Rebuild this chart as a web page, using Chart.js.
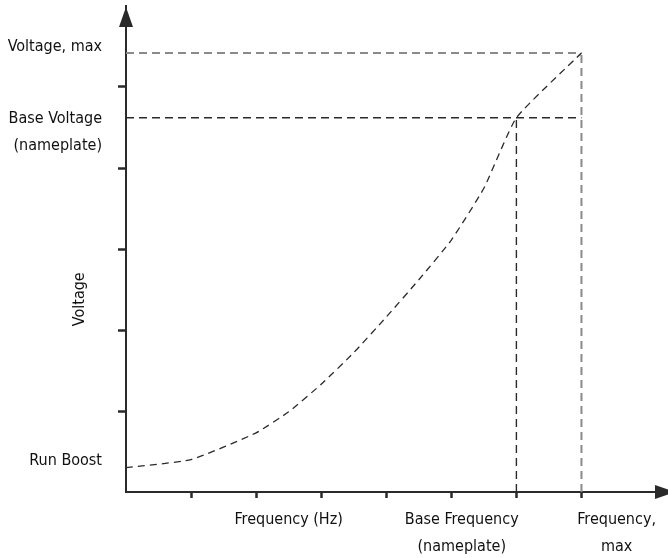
<!DOCTYPE html>
<html>
<head>
<meta charset="utf-8">
<script src="https://cdn.jsdelivr.net/npm/chart.js@4.4.1/dist/chart.umd.min.js"></script>
<style>
  body { margin: 0; background: #fff; }
  #vfChart { display: block; }
</style>
</head>
<body>
<canvas id="vfChart" width="668" height="558"></canvas>
<script>
// curve (x in frequency ticks, y in voltage ticks)
const curveFreq = [0, 1, 2, 2.5, 3, 3.5, 4, 4.5, 5, 5.5, 6, 7];
const curveVolt = [0.30, 0.40, 0.73, 0.99, 1.33, 1.72, 2.16, 2.62, 3.11, 3.75, 4.62, 5.42];

// reference levels
const baseFreq = 6;
const maxFreq = 7;
const baseVolt = 4.62;
const maxVolt = 5.42;

// tick marks
const xMarks = [1, 2, 3, 4, 5, 6, 7];
const yMarks = [1, 2, 3, 4, 5];

// tick labels (position, text)
const xLabelAt = [2.5, 5.16, 7.54];
const xLabels = ["Frequency (Hz)", ["Base Frequency", "(nameplate)"], ["Frequency,", "max"]];
const yLabelAt = [0.38, 4.44, 5.49];
const yLabels = ["Run Boost", ["Base Voltage", "(nameplate)"], "Voltage, max"];
const yTitle = "Voltage";
const yTitleAt = 2.38;

const FONT = "'Liberation Sans Narrow', 'DejaVu Sans Condensed', 'Liberation Sans', sans-serif";
const FONT_SIZE = 16;
const TEXT = "#111";
const DARK = "#2a2a2a";
const GREY = "#8a8a8a";

function toPoints(xs, ys) {
    return xs.map((x, i) => ({ x: x, y: ys[i] }));
}

function labelFor(value, at, labels) {
    const i = at.findIndex(v => Math.abs(v - value) < 1e-6);
    return i >= 0 ? labels[i] : "";
}

function isMark(value, marks) {
    return marks.some(v => Math.abs(v - value) < 1e-6);
}

// arrows on the axes + rotated axis title
const axisExtras = {
    id: "axisExtras",
    afterDraw(chart) {
        const { ctx, chartArea: a } = chart;
        ctx.save();
        ctx.fillStyle = DARK;

        ctx.beginPath();
        ctx.moveTo(a.left, a.top + 1);
        ctx.lineTo(a.left - 7, a.top + 21);
        ctx.lineTo(a.left + 7, a.top + 21);
        ctx.closePath();
        ctx.fill();

        ctx.beginPath();
        ctx.moveTo(a.right + 7, a.bottom);
        ctx.lineTo(a.right - 13, a.bottom - 7);
        ctx.lineTo(a.right - 13, a.bottom + 7);
        ctx.closePath();
        ctx.fill();

        ctx.fillStyle = TEXT;
        ctx.font = FONT_SIZE + "px " + FONT;
        ctx.textAlign = "center";
        ctx.textBaseline = "middle";
        ctx.translate(80, chart.scales.y.getPixelForValue(yTitleAt));
        ctx.rotate(-Math.PI / 2);
        ctx.fillText(yTitle, 0, 0);
        ctx.restore();
    }
};

const dashedLine = (data, color, width, dash, tension) => ({
    data: data,
    borderColor: color,
    borderWidth: width,
    borderDash: dash,
    pointRadius: 0,
    tension: tension || 0,
    fill: false
});

new Chart(document.getElementById("vfChart"), {
    type: "line",
    data: {
        datasets: [
            dashedLine(toPoints(curveFreq, curveVolt), DARK, 1.3, [7, 5], 0.15),
            dashedLine([{ x: 0, y: maxVolt }, { x: maxFreq, y: maxVolt }], GREY, 2, [8, 5]),
            dashedLine([{ x: maxFreq, y: 0 }, { x: maxFreq, y: maxVolt }], GREY, 2, [8, 5]),
            dashedLine([{ x: 0, y: baseVolt }, { x: maxFreq, y: baseVolt }], DARK, 1.4, [8, 5]),
            dashedLine([{ x: baseFreq, y: 0 }, { x: baseFreq, y: baseVolt }], DARK, 1.4, [8, 5])
        ]
    },
    options: {
        responsive: false,
        animation: false,
        layout: { padding: { top: 6, right: 0, left: 0, bottom: 0 } },
        plugins: {
            legend: { display: false },
            tooltip: { enabled: false }
        },
        scales: {
            x: {
                type: "linear",
                min: 0,
                max: 8.33,
                afterBuildTicks: scale => {
                    scale.ticks = [...xMarks, ...xLabelAt].sort((a, b) => a - b).map(v => ({ value: v }));
                },
                afterFit: scale => {
                    scale.height = 66;
                    scale.paddingLeft = 0;
                    scale.paddingRight = 0;
                },
                border: { display: true, color: DARK, width: 2 },
                grid: {
                    drawOnChartArea: false,
                    tickLength: 6,
                    tickWidth: 2.5,
                    tickColor: ctx => isMark(ctx.tick.value, xMarks) ? DARK : "rgba(0,0,0,0)"
                },
                ticks: {
                    autoSkip: false,
                    maxRotation: 0,
                    padding: 8,
                    color: TEXT,
                    font: { family: FONT, size: FONT_SIZE, lineHeight: 1.7 },
                    callback: value => labelFor(value, xLabelAt, xLabels)
                }
            },
            y: {
                type: "linear",
                min: 0,
                max: 6,
                afterBuildTicks: scale => {
                    scale.ticks = [...yMarks, ...yLabelAt].sort((a, b) => a - b).map(v => ({ value: v }));
                },
                afterFit: scale => {
                    scale.width = 126;
                    scale.paddingTop = 0;
                    scale.paddingBottom = 0;
                },
                border: { display: true, color: DARK, width: 2 },
                grid: {
                    drawOnChartArea: false,
                    tickLength: 8,
                    tickWidth: 2.5,
                    tickColor: ctx => isMark(ctx.tick.value, yMarks) ? DARK : "rgba(0,0,0,0)"
                },
                ticks: {
                    autoSkip: false,
                    padding: 16,
                    color: TEXT,
                    font: { family: FONT, size: FONT_SIZE, lineHeight: 1.7 },
                    callback: value => labelFor(value, yLabelAt, yLabels)
                }
            }
        }
    },
    plugins: [axisExtras]
});
</script>
</body>
</html>
